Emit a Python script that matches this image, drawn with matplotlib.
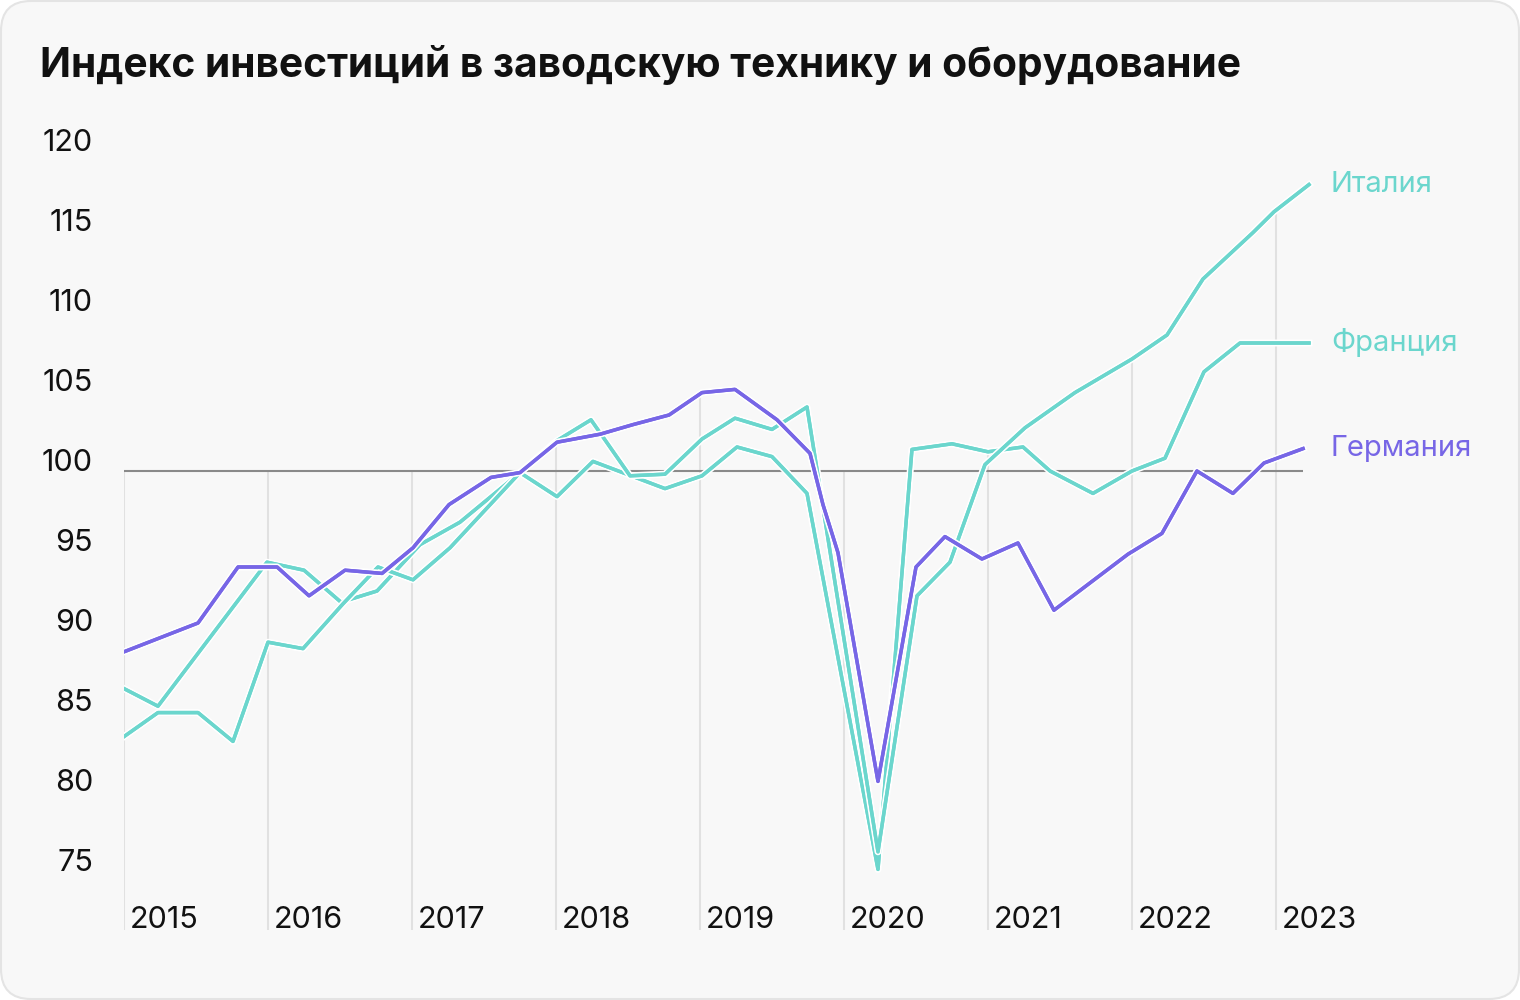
import numpy as np
import matplotlib.pyplot as plt
from matplotlib.patches import FancyBboxPatch
from matplotlib import patheffects
from matplotlib.transforms import ScaledTranslation

plt.rcParams['font.family'] = ['Inter', 'DejaVu Sans']

# ---------------- data ----------------
title = "Индекс инвестиций в заводскую технику и оборудование"
years = [2015, 2016, 2017, 2018, 2019, 2020, 2021, 2022, 2023]
y_ticks = [75, 80, 85, 90, 95, 100, 105, 110, 115, 120]

# Germany (decimal years)
germany_x = [2015.0, 2015.514, 2015.792, 2016.063, 2016.285, 2016.535, 2016.792,
             2017.007, 2017.257, 2017.549, 2017.75, 2018.007, 2018.306, 2018.535,
             2018.785, 2019.014, 2019.243, 2019.535, 2019.764, 2019.854, 2019.958,
             2020.236, 2020.5, 2020.701, 2020.958, 2021.208, 2021.458, 2021.972,
             2022.208, 2022.451, 2022.701, 2022.917, 2023.188]
germany_y = [88.7, 90.5, 94.0, 94.0, 92.2, 93.8, 93.6,
             95.2, 97.9, 99.6, 99.9, 101.8, 102.3, 102.9,
             103.5, 104.9, 105.1, 103.2, 101.1, 97.9, 94.9,
             80.6, 94.0, 95.9, 94.5, 95.5, 91.3, 94.8,
             96.1, 100.0, 98.6, 100.5, 101.4]

# France
france_x = [2015.0, 2015.236, 2015.993, 2016.25, 2016.507, 2016.757, 2017.056,
            2017.333, 2017.75, 2018.007, 2018.257, 2018.757, 2019.014, 2019.257,
            2019.5, 2019.743, 2020.236, 2020.472, 2020.75, 2021.0, 2021.243,
            2021.431, 2021.729, 2022.0, 2022.229, 2022.5, 2022.75, 2023.229]
france_y = [86.4, 85.3, 94.3, 93.8, 91.8, 92.5, 95.4,
            96.8, 99.9, 98.4, 100.6, 98.9, 99.7, 101.5,
            100.9, 98.6, 75.1, 101.35, 101.7, 101.2, 101.5,
            100.0, 98.6, 100.0, 100.8, 106.2, 108.0, 108.0]

# Italy
italy_x = [2015.0, 2015.236, 2015.514, 2015.757, 2016.0, 2016.243, 2016.521,
           2016.764, 2017.007, 2017.264, 2017.75, 2018.007, 2018.243, 2018.514,
           2018.757, 2019.014, 2019.243, 2019.5, 2019.743, 2020.236, 2020.507,
           2020.736, 2020.979, 2021.257, 2021.604, 2022.0, 2022.243, 2022.493,
           2022.84, 2022.986, 2023.229]
italy_y = [83.4, 84.9, 84.9, 83.1, 89.3, 88.9, 91.7,
           94.0, 93.2, 95.2, 99.9, 101.9, 103.2, 99.7,
           99.8, 102.0, 103.3, 102.6, 104.0, 76.2, 92.2,
           94.3, 100.4, 102.7, 104.9, 107.0, 108.5, 112.0,
           114.9, 116.2, 117.9]

purple = '#7766E6'
cyan = '#6BD6CD'

# ---------------- figure ----------------
fig = plt.figure(figsize=(15.2, 10), dpi=100)
fig.patch.set_facecolor('white')
card = FancyBboxPatch((0.01, 0.01), 15.18, 9.98,
                      boxstyle='round,pad=0,rounding_size=0.3',
                      transform=fig.dpi_scale_trans,
                      facecolor='#F8F8F8', edgecolor='#E4E4E4', lw=1.5, zorder=-10)
fig.patches.append(card)

fig.text(40 / 1520, 1 - 65 / 1000, title, fontsize=29.3, fontweight='bold',
         color='#111111', ha='left', va='center')

ax = fig.add_axes([124 / 1520, 0.07, 1352 / 1520, 0.8])
ax.set_xlim(2015, 2015 + 1352 / 144)
y_min = 100 - (930 - 471) / 16
ax.set_ylim(y_min, y_min + 50)
ax.patch.set_alpha(0)
for s in ax.spines.values():
    s.set_visible(False)

# y ticks
ax.set_yticks(y_ticks)
ax.set_xticks([])
ax.tick_params(axis='y', length=0, pad=22.3, labelsize=22, labelcolor='#111111')
for lab in ax.get_yticklabels():
    lab.set_transform(lab.get_transform() + ScaledTranslation(0, 0.11, fig.dpi_scale_trans))

series = [(france_x, france_y), (italy_x, italy_y), (germany_x, germany_y)]

# year drop lines + labels
for yr in years:
    top = max([100] + [np.interp(yr, sx, sy) for sx, sy in series])
    ax.vlines(yr, y_min, top, color='#E1E1E1', lw=1.5, zorder=1)
    ax.text(yr + 6 / 144, 100 - (920 - 471) / 16, str(yr), fontsize=22,
            color='#111111', ha='left', va='center')

# base line at 100
ax.hlines(100, 2015, germany_x[-1], color='#8A8A8A', lw=1.5, zorder=2)

halo = [patheffects.withStroke(linewidth=5, foreground='white'), patheffects.Normal()]
ax.plot(france_x, france_y, color=cyan, lw=2.5, zorder=3, path_effects=halo)
ax.plot(italy_x, italy_y, color=cyan, lw=2.5, zorder=3, path_effects=halo)
ax.plot(germany_x, germany_y, color=purple, lw=2.5, zorder=4, path_effects=halo)

# end labels
label_x = 2015 + (1331 - 124) / 144
ax.text(label_x, italy_y[-1], "Италия", color=cyan, fontsize=21, va='center')
ax.text(label_x, france_y[-1], "Франция", color=cyan, fontsize=21, va='center')
ax.text(label_x, germany_y[-1], "Германия", color=purple, fontsize=21, va='center')

fig.savefig('out.png', dpi=100, facecolor='white')
